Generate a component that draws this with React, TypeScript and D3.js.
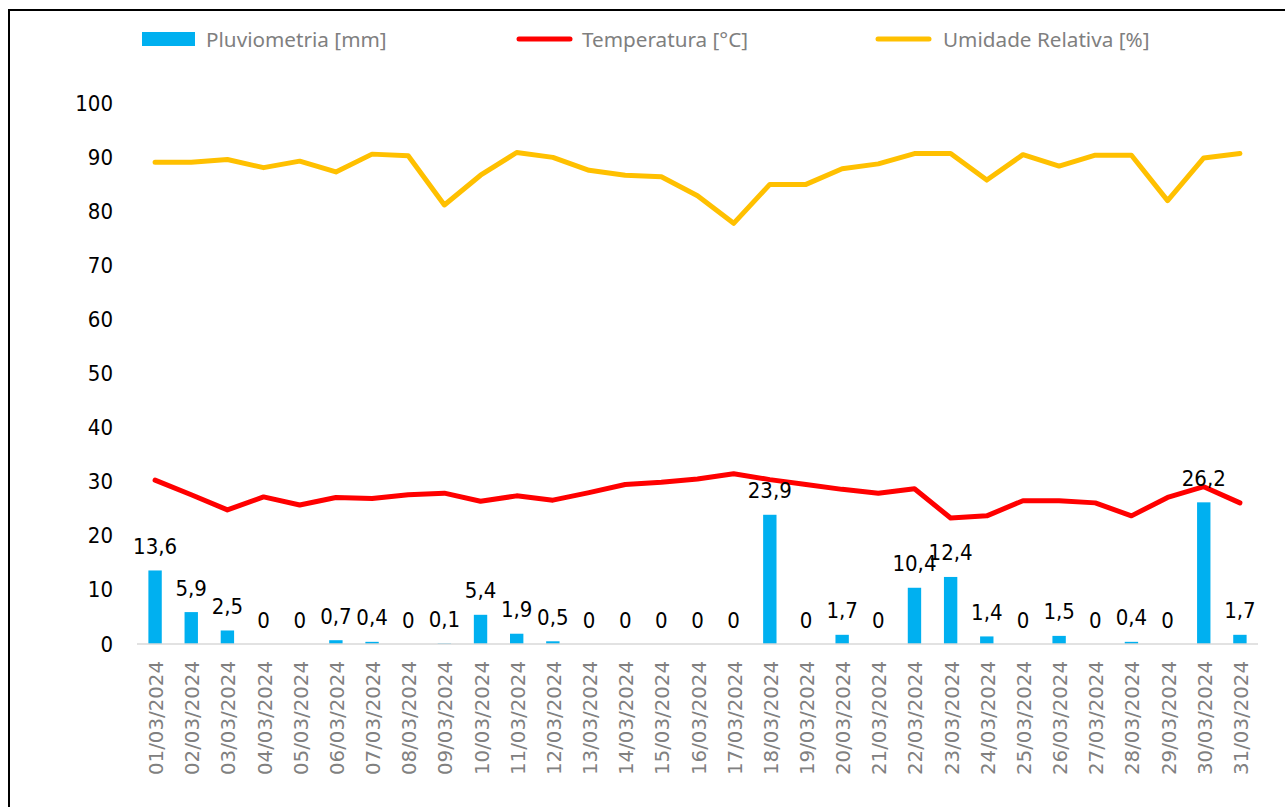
import React from 'react';
import * as d3 from 'd3';

const dias = [
  '01/03/2024', '02/03/2024', '03/03/2024', '04/03/2024', '05/03/2024', '06/03/2024', '07/03/2024', '08/03/2024',
  '09/03/2024', '10/03/2024', '11/03/2024', '12/03/2024', '13/03/2024', '14/03/2024', '15/03/2024', '16/03/2024',
  '17/03/2024', '18/03/2024', '19/03/2024', '20/03/2024', '21/03/2024', '22/03/2024', '23/03/2024', '24/03/2024',
  '25/03/2024', '26/03/2024', '27/03/2024', '28/03/2024', '29/03/2024', '30/03/2024', '31/03/2024',
];

const pluviometria = [
  13.6, 5.9, 2.5, 0, 0, 0.7, 0.4, 0, 0.1, 5.4, 1.9, 0.5, 0, 0, 0, 0,
  0, 23.9, 0, 1.7, 0, 10.4, 12.4, 1.4, 0, 1.5, 0, 0.4, 0, 26.2, 1.7,
];

const temperatura = [
  30.3, 27.6, 24.8, 27.2, 25.7, 27.1, 26.9, 27.6, 27.9, 26.4, 27.4, 26.6, 28.0, 29.5, 29.9, 30.5,
  31.5, 30.4, 29.5, 28.6, 27.9, 28.7, 23.3, 23.7, 26.5, 26.5, 26.1, 23.7, 27.1, 29.1, 26.1,
];

const umidade = [
  89.1, 89.1, 89.6, 88.1, 89.3, 87.3, 90.6, 90.3, 81.2, 86.7, 90.9, 90.0, 87.6, 86.7, 86.4, 82.9,
  77.8, 85.0, 85.0, 87.9, 88.8, 90.7, 90.7, 85.8, 90.5, 88.4, 90.4, 90.4, 82.0, 89.9, 90.7,
];

const yTicks = [0, 10, 20, 30, 40, 50, 60, 70, 80, 90, 100];

const legenda = [
  { nome: 'Pluviometria [mm]', cor: '#00b0f0', tipo: 'bar', x: 142, tx: 206 },
  { nome: 'Temperatura [°C]', cor: '#ff0000', tipo: 'line', x: 517, tx: 582 },
  { nome: 'Umidade Relativa [%]', cor: '#ffc000', tipo: 'line', x: 876, tx: 943 },
];

const W = 1285;
const H = 807;
const numFont = '"DejaVu Sans Condensed", "DejaVu Sans", sans-serif';

const fmt = (v: number) => String(v).replace('.', ',');

export default function App() {
  const x = d3.scaleBand<string>().domain(dias).range([137, 1258]).padding(0);
  const y = d3.scaleLinear().domain([0, 100]).range([644, 103.3]);
  const barW = x.bandwidth() * 0.37;
  const cx = (d: string) => (x(d) as number) + x.bandwidth() / 2;

  const line = d3.line<number>()
    .x((_, i) => cx(dias[i]))
    .y((v) => y(v));

  return (
    <svg width={W} height={H} style={{ position: 'absolute', left: 0, top: 0, background: '#fff' }}>
      <rect x={9} y={10} width={W + 20} height={H + 20} fill="#fff" stroke="#000" strokeWidth={2} />

      {/* legenda */}
      {legenda.map((l) => (
        <g key={l.nome}>
          {l.tipo === 'bar'
            ? <rect x={l.x} y={32} width={53} height={14} fill={l.cor} />
            : <line x1={l.x + 2} x2={l.x + 53} y1={39} y2={39} stroke={l.cor} strokeWidth={5} strokeLinecap="round" />}
          <text x={l.tx} y={39} dominantBaseline="central" fontFamily='"Noto Sans", sans-serif'
            fontSize={20.7} fill="#7f7f7f">{l.nome}</text>
        </g>
      ))}

      {/* eixo y */}
      {yTicks.map((t) => (
        <text key={t} x={113} y={y(t)} textAnchor="end" dominantBaseline="central"
          fontFamily={numFont} fontSize={22} fill="#000">{t}</text>
      ))}

      {/* barras */}
      {pluviometria.map((v, i) => (
        <rect key={dias[i]} x={cx(dias[i]) - barW / 2} y={y(v)} width={barW} height={y(0) - y(v)} fill="#00b0f0" />
      ))}

      <line x1={137} x2={1258} y1={y(0)} y2={y(0)} stroke="#d9d9d9" strokeWidth={1.5} />

      <path d={line(temperatura) || ''} fill="none" stroke="#ff0000" strokeWidth={5}
        strokeLinejoin="round" strokeLinecap="round" />
      <path d={line(umidade) || ''} fill="none" stroke="#ffc000" strokeWidth={5}
        strokeLinejoin="round" strokeLinecap="round" />

      {/* rotulos das barras */}
      {pluviometria.map((v, i) => (
        <text key={'r' + dias[i]} x={cx(dias[i])} y={y(v) - 24} textAnchor="middle" dominantBaseline="central"
          fontFamily={numFont} fontSize={22} fill="#000">{fmt(v)}</text>
      ))}

      {/* eixo x */}
      {dias.map((d) => (
        <text key={'x' + d} transform={`translate(${cx(d) + 1},661) rotate(-90)`} textAnchor="end"
          dominantBaseline="central" fontFamily={numFont} fontSize={20} fill="#808080"
          textLength={114} lengthAdjust="spacingAndGlyphs">{d}</text>
      ))}
    </svg>
  );
}
